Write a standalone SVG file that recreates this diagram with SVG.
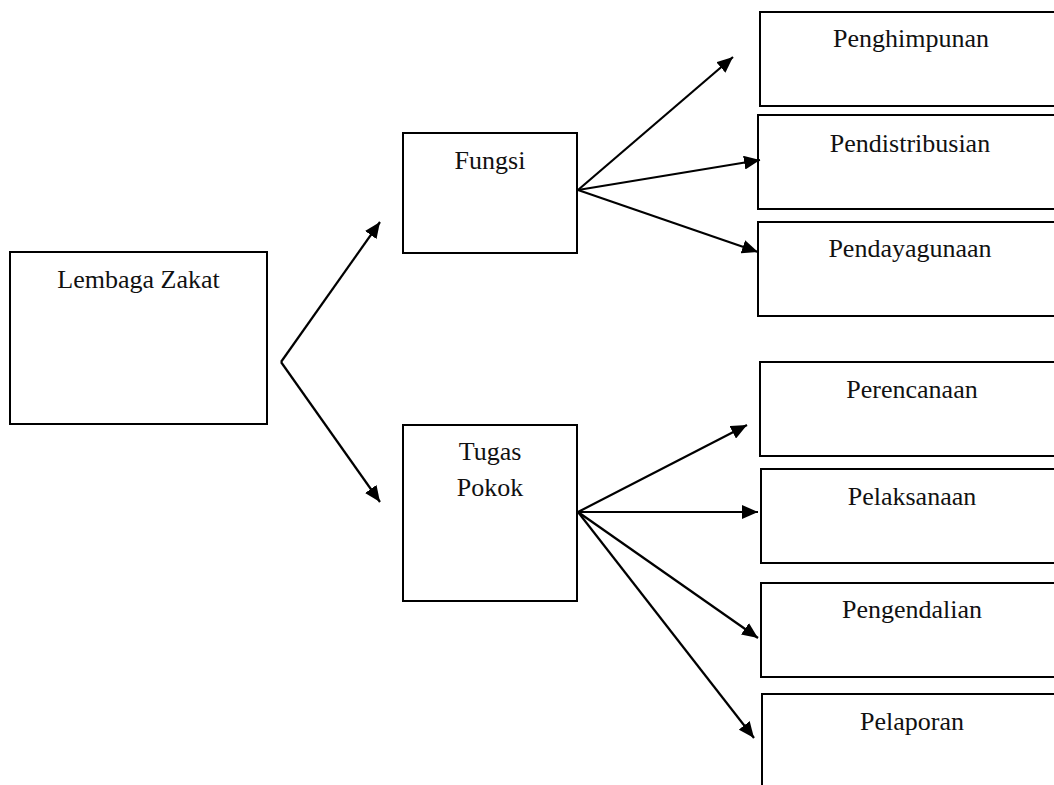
<svg xmlns="http://www.w3.org/2000/svg" width="1054" height="785" viewBox="0 0 1054 785">
<style>
.box{fill:#fff;stroke:#000;stroke-width:2}
.lbl{font-size:26px;fill:#111;text-anchor:middle}
.con{stroke:#000;stroke-width:2.2;fill:none}
</style>
<defs>
<marker id="arr" markerUnits="userSpaceOnUse" viewBox="0 0 16 14" refX="16" refY="7" markerWidth="16" markerHeight="14" orient="auto">
<path d="M0,0 L16,7 L0,14 z" fill="#000"/>
</marker>
</defs>
<rect width="1054" height="785" fill="#fff"/>
<g font-family="'Liberation Serif', serif">
<g id="lembaga"><rect class="box" x="10" y="252" width="257" height="172"/><text class="lbl" x="138.5" y="288">Lembaga Zakat</text></g>
<g id="fungsi"><rect class="box" x="403" y="133" width="174" height="120"/><text class="lbl" x="490" y="169">Fungsi</text></g>
<g id="tugas"><rect class="box" x="403" y="425" width="174" height="176"/><text class="lbl" x="490" y="460">Tugas</text><text class="lbl" x="490" y="496">Pokok</text></g>
<g id="penghimpunan"><rect class="box" x="760" y="12" width="310" height="94"/><text class="lbl" x="911" y="47">Penghimpunan</text></g>
<g id="pendistribusian"><rect class="box" x="758" y="115" width="310" height="94"/><text class="lbl" x="910" y="152">Pendistribusian</text></g>
<g id="pendayagunaan"><rect class="box" x="758" y="222" width="310" height="94"/><text class="lbl" x="910" y="257">Pendayagunaan</text></g>
<g id="perencanaan"><rect class="box" x="760" y="362" width="310" height="94"/><text class="lbl" x="912" y="398">Perencanaan</text></g>
<g id="pelaksanaan"><rect class="box" x="761" y="469" width="310" height="94"/><text class="lbl" x="912" y="505">Pelaksanaan</text></g>
<g id="pengendalian"><rect class="box" x="761" y="583" width="310" height="94"/><text class="lbl" x="912" y="618">Pengendalian</text></g>
<g id="pelaporan"><rect class="box" x="762" y="694" width="310" height="110"/><text class="lbl" x="912" y="730">Pelaporan</text></g>
</g>
<g id="connectors">
<path class="con" d="M281,362 L380,222" marker-end="url(#arr)"/>
<path class="con" d="M281,362 L380,502" marker-end="url(#arr)"/>
<path class="con" d="M578,190 L733,57" marker-end="url(#arr)"/>
<path class="con" d="M578,190 L760,160" marker-end="url(#arr)"/>
<path class="con" d="M578,190 L758,252" marker-end="url(#arr)"/>
<path class="con" d="M578,512 L747,425" marker-end="url(#arr)"/>
<path class="con" d="M578,512 L758,512" marker-end="url(#arr)"/>
<path class="con" d="M578,512 L758,638" marker-end="url(#arr)"/>
<path class="con" d="M578,512 L754,738" marker-end="url(#arr)"/>
</g>
</svg>
